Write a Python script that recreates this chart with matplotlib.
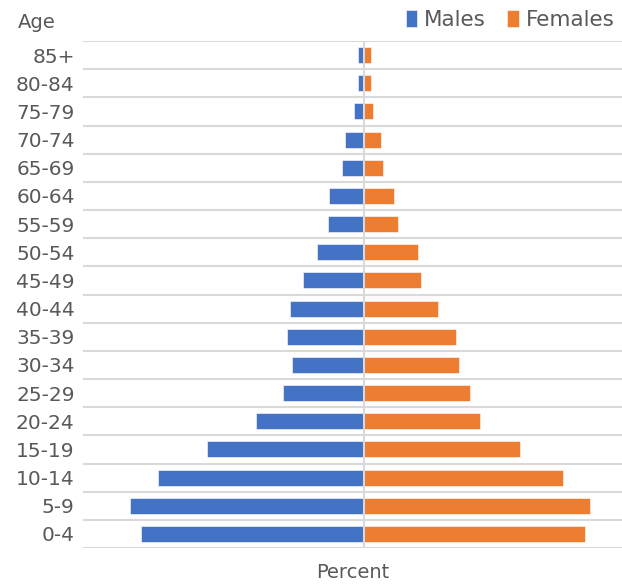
import numpy as np
import matplotlib.pyplot as plt

ages = ["0-4", "5-9", "10-14", "15-19", "20-24", "25-29", "30-34", "35-39", "40-44",
        "45-49", "50-54", "55-59", "60-64", "65-69", "70-74", "75-79", "80-84", "85+"]
males = [7.43, 7.80, 6.87, 5.23, 3.60, 2.70, 2.40, 2.57, 2.47,
         2.03, 1.57, 1.20, 1.17, 0.73, 0.63, 0.33, 0.20, 0.20]
females = [7.37, 7.53, 6.63, 5.20, 3.87, 3.53, 3.17, 3.07, 2.47,
           1.90, 1.80, 1.13, 1.00, 0.63, 0.57, 0.30, 0.23, 0.23]

blue = "#4472C4"
orange = "#ED7D31"
grid = "#D9D9D9"
txt = "#595959"

fig = plt.figure(figsize=(6.22, 5.86), dpi=100)
ax = fig.add_axes([0.1334, 0.0648, 0.8666, 0.8652])

y = np.arange(len(ages))
ax.barh(y, [-m for m in males], height=0.57, color=blue, label="Males",
        edgecolor="white", linewidth=0.4, zorder=2)
ax.barh(y, females, height=0.57, color=orange, label="Females",
        edgecolor="white", linewidth=0.4, zorder=2)
ax.axvline(0, color=grid, lw=1.5, zorder=3)

ax.set_xlim(-9.37, 8.6)
ax.set_ylim(-0.5, len(ages) - 0.5)
ax.set_yticks(y)
ax.set_yticklabels(ages, fontsize=14.5, color=txt)
ax.set_yticks(np.arange(-0.5, len(ages)), minor=True)
ax.grid(True, axis="y", which="minor", color=grid, lw=1.5, zorder=0)
ax.tick_params(axis="y", which="both", length=0, pad=6)
ax.set_xticks([])
for s in ax.spines.values():
    s.set_visible(False)

ax.set_xlabel("Percent", fontsize=14, color=txt, labelpad=11)
fig.text(0.059, 0.962, "Age", fontsize=14, color=txt, ha="center", va="center")
fig.legend(loc="center right", bbox_to_anchor=(1.012, 0.966), ncol=2, frameon=False,
           fontsize=15.5, handlelength=0.55, handleheight=0.8, handletextpad=0.3,
           columnspacing=1.0, labelcolor=txt, borderpad=0.2)

fig.savefig("out.png", dpi=100)
